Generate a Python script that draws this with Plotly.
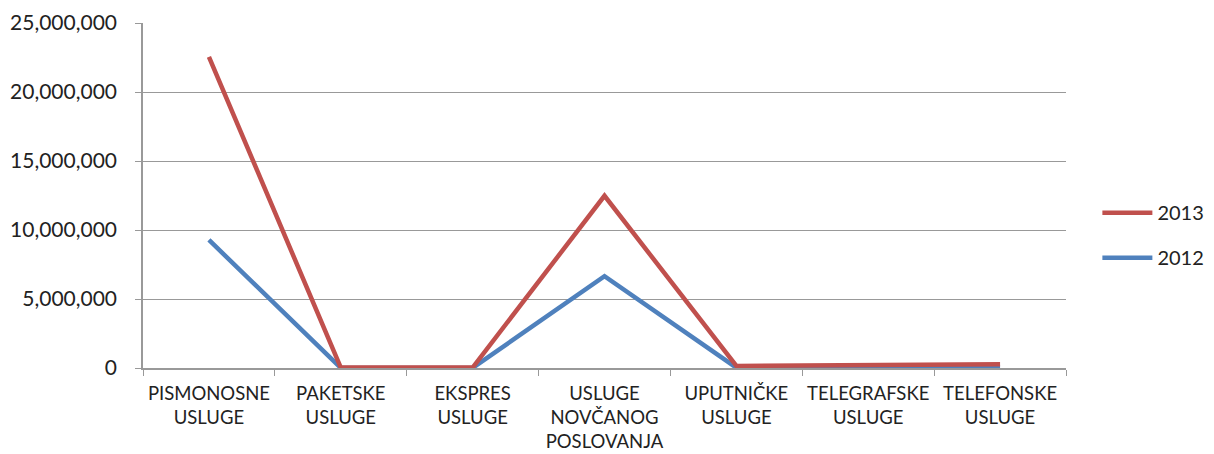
import plotly.graph_objects as go

categories = ["PISMONOSNE<br>USLUGE", "PAKETSKE<br>USLUGE", "EKSPRES<br>USLUGE",
              "USLUGE<br>NOVČANOG<br>POSLOVANJA", "UPUTNIČKE<br>USLUGE",
              "TELEGRAFSKE<br>USLUGE", "TELEFONSKE<br>USLUGE"]
values_2013 = [22550000, 30000, 30000, 12480000, 150000, 230000, 280000]
values_2012 = [9280000, 5000, 5000, 6650000, 20000, 50000, 80000]
y_ticks = [0, 5000000, 10000000, 15000000, 20000000, 25000000]

fig = go.Figure()
fig.add_trace(go.Scatter(x=categories, y=values_2012, name="2012", mode="lines",
                         line=dict(color="#4F81BD", width=4.5), legendgroup="a",
                         legendrank=2))
fig.add_trace(go.Scatter(x=categories, y=values_2013, name="2013", mode="lines",
                         line=dict(color="#C0504D", width=4.5), legendgroup="b",
                         legendrank=1))

fig.update_layout(
    width=1214, height=454,
    margin=dict(l=135, r=156, t=15, b=94),
    paper_bgcolor="white", plot_bgcolor="white",
    font=dict(family="Lato, Open Sans, sans-serif", size=18, color="#222222"),
    legend=dict(x=1.034, y=0.385, xanchor="left", yanchor="middle",
                traceorder="grouped", tracegroupgap=16,
                font=dict(size=20), itemwidth=50),
    showlegend=True,
)
fig.update_xaxes(type="category", range=[-0.5, 6.5], showgrid=False, automargin=False,
                 showline=True, linecolor="#999999", linewidth=1.5, tickangle=0,
                 ticks="outside", tickson="boundaries", ticklen=6, tickcolor="#999999",
                 tickfont=dict(size=18.5), ticklabelstandoff=8)
fig.update_yaxes(range=[0, 25000000], tickvals=y_ticks, tickformat=",d", automargin=False,
                 showgrid=True, gridcolor="#999999", gridwidth=1,
                 showline=True, linecolor="#999999", linewidth=1.5,
                 ticks="outside", ticklen=6, tickcolor="#999999",
                 zeroline=False, tickfont=dict(size=21), ticklabelstandoff=14)

fig.write_html("out.html")
